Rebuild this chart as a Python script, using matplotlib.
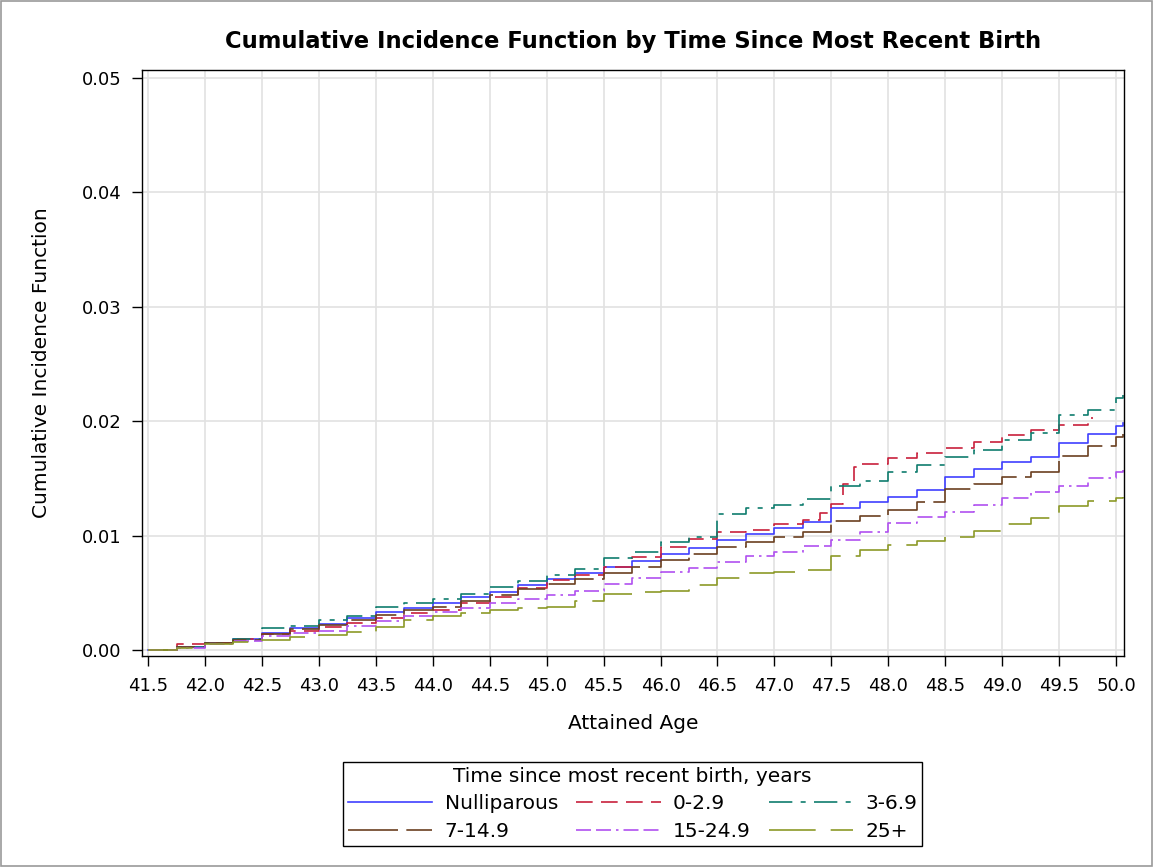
import matplotlib
matplotlib.use("Agg")
import matplotlib.pyplot as plt
from matplotlib.patches import Rectangle

plt.rcParams["font.family"] = ["DejaVu Sans"]

# quarter-year grid of attained ages (step curves)
ages = [41.5, 41.75, 42.0, 42.25, 42.5, 42.75, 43.0, 43.25, 43.5, 43.75, 44.0, 44.25,
        44.5, 44.75, 45.0, 45.25, 45.5, 45.75, 46.0, 46.25, 46.5, 46.75, 47.0, 47.25,
        47.5, 47.75, 48.0, 48.25, 48.5, 48.75, 49.0, 49.25, 49.5, 49.75, 50.0, 50.06]

nullip = [0.0, 0.0003, 0.0006, 0.0010, 0.0015, 0.0019, 0.0023, 0.0028, 0.0033, 0.0037,
          0.0041, 0.0046, 0.0051, 0.0057, 0.0062, 0.0067, 0.0073, 0.0078, 0.0084, 0.0089,
          0.0096, 0.0101, 0.0107, 0.0112, 0.0124, 0.0129, 0.0134, 0.0140, 0.0151, 0.0158,
          0.0164, 0.0169, 0.0181, 0.0189, 0.0196, 0.0198]

ages_0_3 = [41.5, 41.75, 42.0, 42.25, 42.5, 42.75, 43.0, 43.25, 43.5, 43.75, 44.0, 44.25,
            44.5, 44.75, 45.0, 45.25, 45.5, 45.75, 46.0, 46.25, 46.5, 46.75, 47.0, 47.25,
            47.4, 47.5, 47.6, 47.7, 47.75, 48.0, 48.25, 48.5, 48.75, 49.0, 49.25, 49.5,
            49.75, 49.8]
y_0_3 = [0.0, 0.0005, 0.0006, 0.0010, 0.0014, 0.0017, 0.0020, 0.0024, 0.0028, 0.0032,
         0.0035, 0.0041, 0.0046, 0.0054, 0.0061, 0.0066, 0.0073, 0.0081, 0.0090, 0.0097,
         0.0103, 0.0105, 0.0110, 0.0114, 0.0120, 0.0128, 0.0145, 0.0160, 0.0163, 0.0168,
         0.0172, 0.0177, 0.0182, 0.0188, 0.0192, 0.0197, 0.0203, 0.0203]

y_3_7 = [0.0, 0.0003, 0.0006, 0.0010, 0.0019, 0.0021, 0.0026, 0.0030, 0.0038, 0.0041,
         0.0045, 0.0049, 0.0055, 0.0060, 0.0066, 0.0071, 0.0080, 0.0086, 0.0094, 0.0099,
         0.0119, 0.0124, 0.0127, 0.0132, 0.0143, 0.0148, 0.0156, 0.0162, 0.0169, 0.0175,
         0.0184, 0.0190, 0.0205, 0.0210, 0.0220, 0.0223]

y_7_15 = [0.0, 0.0003, 0.0006, 0.0009, 0.0014, 0.0018, 0.0022, 0.0026, 0.0031, 0.0035,
          0.0038, 0.0043, 0.0048, 0.0053, 0.0058, 0.0062, 0.0067, 0.0073, 0.0079, 0.0084,
          0.0090, 0.0094, 0.0099, 0.0103, 0.0113, 0.0117, 0.0122, 0.0129, 0.0141, 0.0145,
          0.0151, 0.0156, 0.0170, 0.0178, 0.0186, 0.0189]

y_15_25 = [0.0, 0.0002, 0.0005, 0.0008, 0.0012, 0.0015, 0.0017, 0.0021, 0.0025, 0.0030,
           0.0033, 0.0037, 0.0041, 0.0045, 0.0048, 0.0052, 0.0058, 0.0063, 0.0068, 0.0072,
           0.0077, 0.0082, 0.0086, 0.0091, 0.0096, 0.0103, 0.0111, 0.0116, 0.0121, 0.0127,
           0.0133, 0.0138, 0.0143, 0.0150, 0.0156, 0.0157]

y_25p = [0.0, 0.0002, 0.0005, 0.0007, 0.0009, 0.0011, 0.0013, 0.0016, 0.0020, 0.0026,
         0.0030, 0.0032, 0.0035, 0.0037, 0.0038, 0.0043, 0.0049, 0.0051, 0.0052, 0.0057,
         0.0063, 0.0067, 0.0068, 0.0070, 0.0082, 0.0087, 0.0092, 0.0095, 0.0099, 0.0104,
         0.0110, 0.0115, 0.0126, 0.0130, 0.0133, 0.0134]

labels = ["Nulliparous", "0-2.9", "3-6.9", "7-14.9", "15-24.9", "25+"]
xticks = [41.5 + 0.5 * i for i in range(18)]
yticks = [0.0, 0.01, 0.02, 0.03, 0.04, 0.05]

series = [
    (ages, nullip, "#3f3fff", None),
    (ages_0_3, y_0_3, "#c8203c", (10, 5)),
    (ages, y_3_7, "#0f7d6e", (14, 5, 3, 5)),
    (ages, y_7_15, "#6b4020", (30, 5)),
    (ages, y_15_25, "#b050f0", (9, 3, 9, 3, 1.5, 3)),
    (ages, y_25p, "#8c9a28", (28, 9)),
]

fig = plt.figure(figsize=(11.53, 8.67), dpi=100)
ax = fig.add_axes([0.1232, 0.2434, 0.8517, 0.6759])

handles = []
for (x, y, col, dash), lab in zip(series, labels):
    ln, = ax.plot(x, y, drawstyle="steps-post", color=col, lw=1.2, label=lab)
    if dash is not None:
        ln.set_dashes(dash)
    handles.append(ln)

ax.set_xlim(41.447, 50.07)
ax.set_ylim(-0.00052, 0.0507)
ax.set_xticks(xticks)
ax.set_xticklabels([f"{t:.1f}" for t in xticks])
ax.set_yticks(yticks)
ax.set_yticklabels([f"{t:.2f}" for t in yticks])
ax.tick_params(labelsize=13, length=7, width=1, pad=8, direction="out")
ax.grid(True, color="#e2e2e2", lw=1.2)
ax.set_axisbelow(True)
for s in ax.spines.values():
    s.set_linewidth(1.0)

ax.set_xlabel("Attained Age", fontsize=14.5, labelpad=14)
ax.set_ylabel("Cumulative Incidence Function", fontsize=14.5, labelpad=22)
ax.set_title("Cumulative Incidence Function by Time Since Most Recent Birth",
             fontsize=16.3, fontweight="bold", pad=16)

# legend filled column-wise: reorder so rows read across
order = [0, 3, 1, 4, 2, 5]
leg = fig.legend([handles[i] for i in order], [labels[i] for i in order],
                 loc="upper center", bbox_to_anchor=(0.5486, 0.1211), ncol=3,
                 title="Time since most recent birth, years", fontsize=14.5,
                 title_fontsize=14.5, handlelength=4.2, handletextpad=0.6,
                 columnspacing=0.9, borderpad=0.25, labelspacing=0.42,
                 borderaxespad=0, fancybox=False, edgecolor="black", framealpha=1)
leg.get_frame().set_linewidth(1.0)

fig.patches.append(Rectangle((0.001, 0.001), 0.998, 0.998, transform=fig.transFigure,
                             fill=False, edgecolor="#9a9a9a", lw=1.2))

fig.savefig("out.png", dpi=100)
